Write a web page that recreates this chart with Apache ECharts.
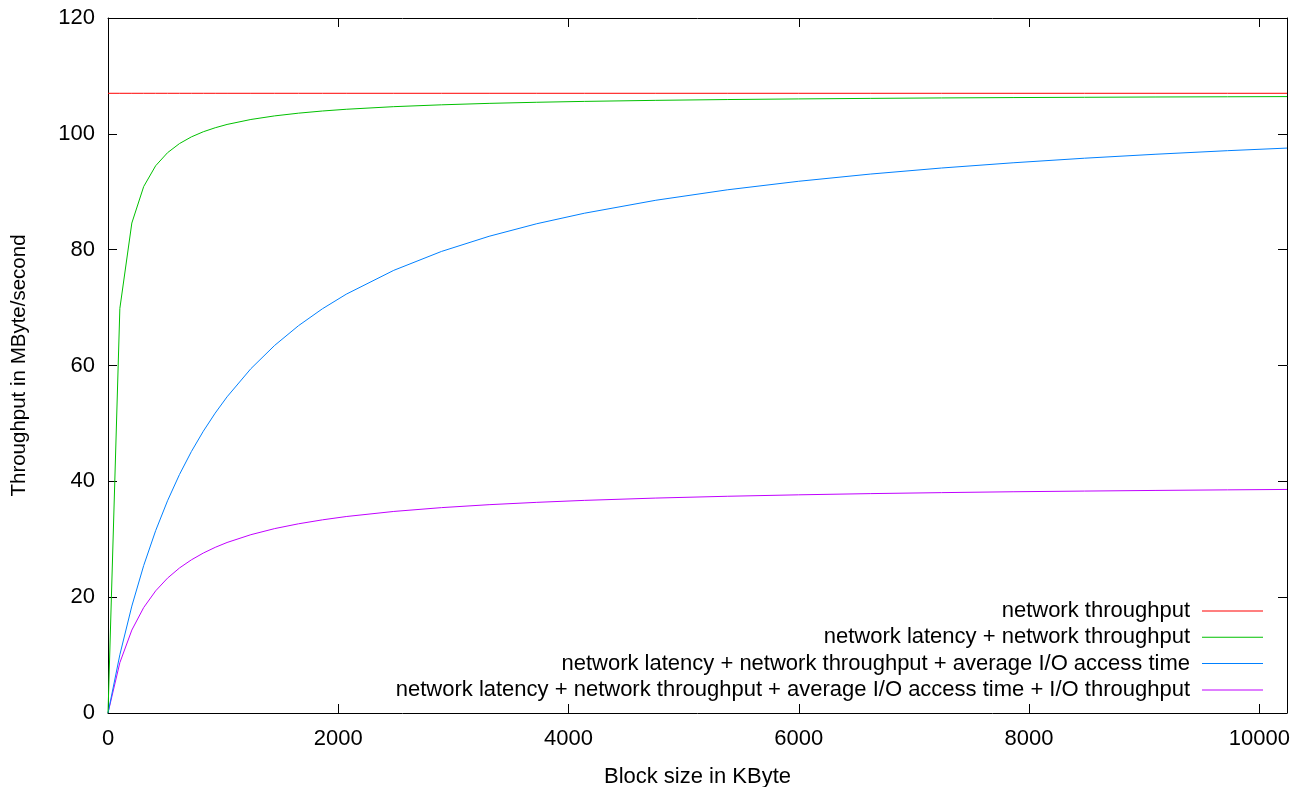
<!DOCTYPE html>
<html>
<head>
<meta charset="utf-8">
<script src="https://cdn.jsdelivr.net/npm/echarts@6/dist/echarts.min.js"></script>
<style>
html,body{margin:0;padding:0;background:#fff;}
#chart{width:1309px;height:787px;}
</style>
</head>
<body>
<div id="chart"></div>
<script>
// Block sizes (KByte)
const blockSizes = [0, 103, 207, 310, 414, 517, 621, 724, 828, 931, 1034, 1241, 1448, 1655, 1862, 2069, 2482, 2896, 3310, 3724, 4137, 4758, 5378, 5999, 6620, 7240, 7861, 8481, 9102, 9723, 10240];
// Throughput values (MByte/second)
const netThroughput = [107, 107, 107, 107, 107, 107, 107, 107, 107, 107, 107, 107, 107, 107, 107, 107, 107, 107, 107, 107, 107, 107, 107, 107, 107, 107, 107, 107, 107, 107, 107];
const netLatency = [0, 69.85, 84.6, 90.9, 94.49, 96.74, 98.32, 99.47, 100.36, 101.05, 101.62, 102.48, 103.10, 103.57, 103.94, 104.24, 104.69, 105.01, 105.26, 105.45, 105.60, 105.78, 105.92, 106.03, 106.12, 106.20, 106.26, 106.31, 106.36, 106.40, 106.43];
const ioAccess = [0, 10.06, 18.46, 25.46, 31.49, 36.64, 41.18, 45.13, 48.66, 51.78, 54.59, 59.45, 63.48, 66.88, 69.79, 72.31, 76.43, 79.69, 82.31, 84.48, 86.29, 88.53, 90.33, 91.81, 93.05, 94.10, 95.00, 95.79, 96.48, 97.09, 97.54];
const ioThroughput = [0, 8.69, 14.32, 18.21, 21.09, 23.29, 25.04, 26.44, 27.62, 28.60, 29.44, 30.79, 31.84, 32.67, 33.35, 33.92, 34.80, 35.46, 35.97, 36.37, 36.71, 37.11, 37.42, 37.67, 37.88, 38.05, 38.20, 38.32, 38.43, 38.53, 38.60];
const seriesNames = [
  'network throughput',
  'network latency + network throughput',
  'network latency + network throughput + average I/O access time',
  'network latency + network throughput + average I/O access time + I/O throughput'
];
const seriesColors = ['#ff0000', '#00c000', '#0080ff', '#c000ff'];
const seriesValues = [netThroughput, netLatency, ioAccess, ioThroughput];

const FONT = '"Liberation Sans", Arial, sans-serif';
const FS = 22;
const chart = echarts.init(document.getElementById('chart'), null, {renderer: 'canvas'});

const series = seriesValues.map((vals, i) => ({
  name: seriesNames[i],
  type: 'line',
  data: blockSizes.map((x, j) => [x, vals[j]]),
  showSymbol: false,
  symbol: 'none',
  smooth: false,
  lineStyle: {width: 1, color: seriesColors[i]},
  itemStyle: {color: seriesColors[i]},
  animation: false,
  z: 10 - i
}));

const lineCfg = {show: true, onZero: false, lineStyle: {color: '#000', width: 1}};
const tickCfg = {show: true, inside: true, length: 9, lineStyle: {color: '#000'}};
const plain = v => String(v);

chart.setOption({
  animation: false,
  textStyle: {fontFamily: FONT},
  grid: {left: 108, right: 22, top: 18, bottom: 74, show: false, containLabel: false, outerBoundsMode: 'none'},
  legend: {
    orient: 'vertical',
    right: 46,
    top: 600,
    padding: 0,
    align: 'right',
    icon: 'rect',
    itemWidth: 61,
    itemHeight: 1,
    itemGap: 4.3,
    textStyle: {fontFamily: FONT, fontSize: FS, color: '#000', lineHeight: 22, padding: [0, 7, 0, 0]},
    data: seriesNames.map((n, i) => ({name: n, itemStyle: {color: seriesColors[i]}}))
  },
  xAxis: [{
    type: 'value', min: 0, max: 10240, interval: 2000,
    name: 'Block size in KByte', nameLocation: 'middle', nameGap: 53,
    nameTextStyle: {fontFamily: FONT, fontSize: FS, color: '#000'},
    axisLabel: {fontFamily: FONT, fontSize: FS, color: '#000', margin: 15, showMaxLabel: false, formatter: plain},
    axisTick: tickCfg, axisLine: lineCfg, splitLine: {show: false}
  }, {
    type: 'value', min: 0, max: 10240, interval: 2000, position: 'top',
    axisLabel: {show: false},
    axisTick: tickCfg, axisLine: lineCfg, splitLine: {show: false}
  }],
  yAxis: [{
    type: 'value', min: 0, max: 120, interval: 20,
    name: 'Throughput in MByte/second', nameLocation: 'middle', nameGap: 78,
    nameTextStyle: {fontFamily: FONT, fontSize: 20.5, color: '#000'},
    axisLabel: {fontFamily: FONT, fontSize: FS, color: '#000', margin: 13, formatter: plain},
    axisTick: tickCfg, axisLine: lineCfg, splitLine: {show: false}
  }, {
    type: 'value', min: 0, max: 120, interval: 20, position: 'right',
    axisLabel: {show: false},
    axisTick: tickCfg, axisLine: lineCfg, splitLine: {show: false}
  }],
  series: series
});
</script>
</body>
</html>
